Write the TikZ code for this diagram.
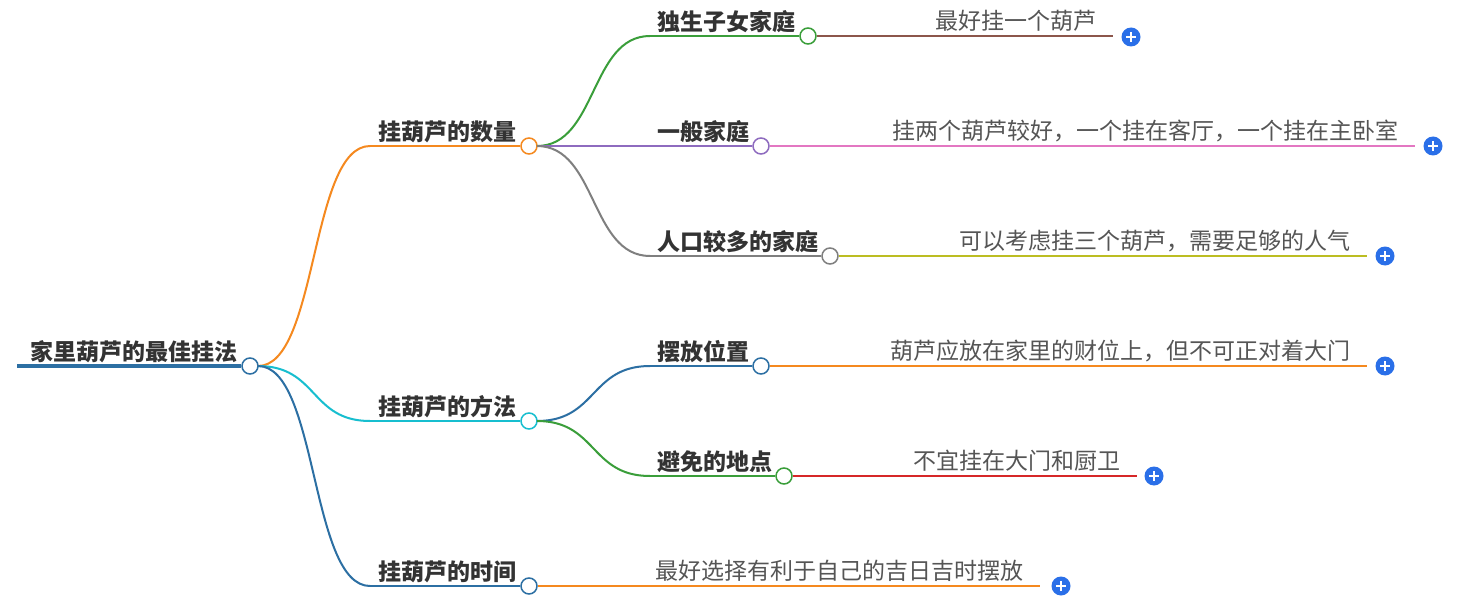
\documentclass[tikz,border=0pt]{standalone}
\usepackage{fontspec}
\setmainfont{Noto Sans CJK SC}
\usetikzlibrary{positioning}
\definecolor{c-orange}{HTML}{F5891F}
\definecolor{c-green}{HTML}{3A9E3A}
\definecolor{c-purple}{HTML}{8E6BBF}
\definecolor{c-grey}{HTML}{7F7F7F}
\definecolor{c-olive}{HTML}{BCBD22}
\definecolor{c-blue}{HTML}{2C6FA3}
\definecolor{c-cyan}{HTML}{17BECF}
\definecolor{c-brown}{HTML}{8C564B}
\definecolor{c-pink}{HTML}{E377C2}
\definecolor{c-red}{HTML}{D62728}
\definecolor{c-plus}{HTML}{2A6FE8}
\definecolor{c-text}{HTML}{333333}
\definecolor{c-leaf}{HTML}{555555}

\tikzset{
  knob/.style={circle,draw=#1,fill=white,line width=1.5bp,inner sep=0pt,minimum size=16bp},
  branch/.style={draw=#1,line width=2bp},
  title/.style={font=\bfseries\fontsize{23bp}{26bp}\selectfont,text=c-text,inner sep=0pt,anchor=south west},
  leaf/.style={font=\fontsize{23bp}{26bp}\selectfont,text=c-leaf,inner sep=0pt,anchor=south east},
  plus/.style={circle,fill=c-plus,inner sep=0pt,minimum size=19bp,
    path picture={\draw[white,line width=1.8bp] ([xshift=-5bp]path picture bounding box.center) -- ([xshift=5bp]path picture bounding box.center)
      ([yshift=-5bp]path picture bounding box.center) -- ([yshift=5bp]path picture bounding box.center);}}
}
\newcommand{\curve}[3]{\draw[branch=#3] (#1) .. controls +(60,0) and +(-60,0) .. (#2);}

\begin{document}
\begin{tikzpicture}[x=1bp,y=-1bp]
\useasboundingbox[fill=white] (0,0) rectangle (1460,603);

% root
\coordinate (root-s) at (17,366);
\node[knob=c-blue] (root) at (250,366) {};
\draw[c-blue,line width=4bp] (root-s) -- (root.west);
\node[title] (root-t) at (30,363) {家里葫芦的最佳挂法};

% level one
\coordinate (num-s) at (370,146);
\coordinate (way-s) at (370,421);
\coordinate (time-s) at (370,586);
\node[knob=c-orange] (num) at (529,146) {};
\node[knob=c-cyan] (way) at (529,421) {};
\node[knob=c-blue] (time) at (529,586) {};
\coordinate (root-e) at (258,366);
\curve{root-e}{num-s}{c-orange}
\curve{root-e}{way-s}{c-cyan}
\curve{root-e}{time-s}{c-blue}
\draw[branch=c-orange] (num-s) -- (num.west);
\draw[branch=c-cyan] (way-s) -- (way.west);
\draw[branch=c-blue] (time-s) -- (time.west);
\node[title] at (378,143) {挂葫芦的数量};
\node[title] at (378,418) {挂葫芦的方法};
\node[title] at (378,583) {挂葫芦的时间};

% level two
\coordinate (num-e) at (537,146);
\coordinate (way-e) at (537,421);
\coordinate (one-s) at (650,36);
\coordinate (two-s) at (650,146);
\coordinate (many-s) at (650,256);
\coordinate (place-s) at (650,366);
\coordinate (avoid-s) at (650,476);
\node[knob=c-green] (one) at (808,36) {};
\node[knob=c-purple] (two) at (761,146) {};
\node[knob=c-grey] (many) at (830,256) {};
\node[knob=c-blue] (place) at (761,366) {};
\node[knob=c-green] (avoid) at (784,476) {};
\curve{num-e}{one-s}{c-green}
\curve{num-e}{two-s}{c-purple}
\curve{num-e}{many-s}{c-grey}
\curve{way-e}{place-s}{c-blue}
\curve{way-e}{avoid-s}{c-green}
\draw[branch=c-green] (one-s) -- (one.west);
\draw[branch=c-purple] (two-s) -- (two.west);
\draw[branch=c-grey] (many-s) -- (many.west);
\draw[branch=c-blue] (place-s) -- (place.west);
\draw[branch=c-green] (avoid-s) -- (avoid.west);
\node[title] at (657,33) {独生子女家庭};
\node[title] at (657,143) {一般家庭};
\node[title] at (657,253) {人口较多的家庭};
\node[title] at (657,363) {摆放位置};
\node[title] at (657,473) {避免的地点};

% leaves
\coordinate (one-e) at (1113,36);
\coordinate (two-e) at (1415,146);
\coordinate (many-e) at (1367,256);
\coordinate (place-e) at (1367,366);
\coordinate (avoid-e) at (1137,476);
\coordinate (time-e) at (1040,586);
\draw[branch=c-brown] (one.east) -- (one-e);
\draw[branch=c-pink] (two.east) -- (two-e);
\draw[branch=c-olive] (many.east) -- (many-e);
\draw[branch=c-orange] (place.east) -- (place-e);
\draw[branch=c-red] (avoid.east) -- (avoid-e);
\draw[branch=c-orange] (time.east) -- (time-e);
\node[leaf] at ([xshift=-16,yshift=4]one-e) {最好挂一个葫芦};
\node[leaf] at ([xshift=-16,yshift=4]two-e) {挂两个葫芦较好，一个挂在客厅，一个挂在主卧室};
\node[leaf] at ([xshift=-16,yshift=4]many-e) {可以考虑挂三个葫芦，需要足够的人气};
\node[leaf] at ([xshift=-16,yshift=4]place-e) {葫芦应放在家里的财位上，但不可正对着大门};
\node[leaf] at ([xshift=-16,yshift=4]avoid-e) {不宜挂在大门和厨卫};
\node[leaf] at ([xshift=-16,yshift=4]time-e) {最好选择有利于自己的吉日吉时摆放};
\node[plus] at (1131,37) {};
\node[plus] at (1433,146) {};
\node[plus] at (1385,256) {};
\node[plus] at (1385,366) {};
\node[plus] at (1154,476) {};
\node[plus] at (1061,586) {};
\end{tikzpicture}
\end{document}
